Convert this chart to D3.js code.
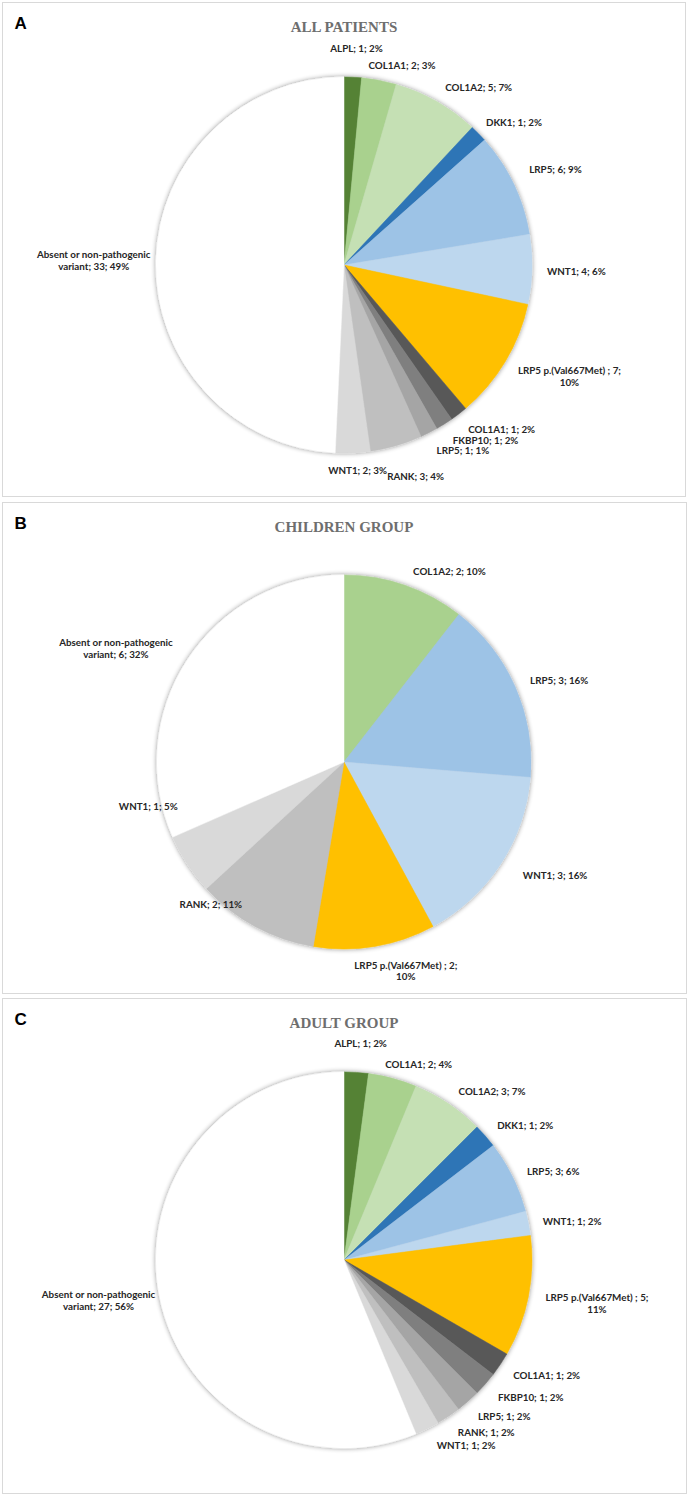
<!DOCTYPE html>
<html><head><meta charset="utf-8">
<script src="https://cdn.jsdelivr.net/npm/d3@7"></script>
<style>body{margin:0;background:#fff}</style>
</head><body>
<svg id="chart" width="689" height="1496"></svg>
<script>
// ---------- DATA ----------
// Panel A: all patients
const allCategories = ["ALPL","COL1A1","COL1A2","DKK1","LRP5","WNT1","LRP5 p.(Val667Met) ","COL1A1","FKBP10","LRP5","RANK","WNT1","Absent or non-pathogenic variant"];
const allValues     = [1,2,5,1,6,4,7,1,1,1,3,2,33];
const allPercents   = ["2%","3%","7%","2%","9%","6%","10%","2%","2%","1%","4%","3%","49%"];

// Panel B: children group
const childCategories = ["COL1A2","LRP5","WNT1","LRP5 p.(Val667Met) ","RANK","WNT1","Absent or non-pathogenic variant"];
const childValues     = [2,3,3,2,2,1,6];
const childPercents   = ["10%","16%","16%","10%","11%","5%","32%"];

// Panel C: adult group
const adultCategories = ["ALPL","COL1A1","COL1A2","DKK1","LRP5","WNT1","LRP5 p.(Val667Met) ","COL1A1","FKBP10","LRP5","RANK","WNT1","Absent or non-pathogenic variant"];
const adultValues     = [1,2,3,1,3,1,5,1,1,1,1,1,27];
const adultPercents   = ["2%","4%","7%","2%","6%","2%","11%","2%","2%","2%","2%","2%","56%"];

// ---------- STYLE / LAYOUT ----------
const fullColors  = ["#548235","#a9d18e","#c5e0b4","#2e75b6","#9dc3e6","#bdd7ee","#ffc000","#595959","#7f7f7f","#a5a5a5","#bfbfbf","#d9d9d9","#ffffff"];
const childColors = ["#a9d18e","#9dc3e6","#bdd7ee","#ffc000","#bfbfbf","#d9d9d9","#ffffff"];

// label nudges (px) relative to the outside-end anchor of each slice
const nudgeA = [[2,-14],[15,0],[21,-1],[9,-1],[10,-8],[6,2],[12,4],[17,4],[19,4],[18,4],[9,17],[3,3],[4,0]];
const nudgeB = [[30,0],[9,0],[20,3],[21,4],[-25,-35],[-7,-66],[-16,0]];
const nudgeC = [[2,-14],[15,0],[20,0],[12,-1],[9,1],[6,1],[9,3],[11,3],[14,4],[13,4],[17,4],[22,4],[4,0]];

const panels = [
  {letter:"A", title:"ALL PATIENTS",   box:[2.5,2.5,683,494],   cx:344, cy:265,  r:188,
   cats:allCategories, vals:allValues, pcts:allPercents, colors:fullColors, nudge:nudgeA},
  {letter:"B", title:"CHILDREN GROUP", box:[2.5,502.5,684,491], cx:344, cy:762,  r:187,
   cats:childCategories, vals:childValues, pcts:childPercents, colors:childColors, nudge:nudgeB},
  {letter:"C", title:"ADULT GROUP",    box:[2.5,998.5,684,495], cx:344, cy:1260, r:188,
   cats:adultCategories, vals:adultValues, pcts:adultPercents, colors:fullColors, nudge:nudgeC}
];

const svg = d3.select("#chart");
const defs = svg.append("defs");
const f = defs.append("filter").attr("id","shadow")
  .attr("x","-10%").attr("y","-10%").attr("width","120%").attr("height","120%");
f.append("feGaussianBlur").attr("in","SourceAlpha").attr("stdDeviation",2.6).attr("result","b");
f.append("feComponentTransfer").attr("in","b").attr("result","s")
  .append("feFuncA").attr("type","linear").attr("slope",0.45);
const fm = f.append("feMerge");
fm.append("feMergeNode").attr("in","s");
fm.append("feMergeNode").attr("in","SourceGraphic");

const labelFont = "Lato, 'Liberation Sans', sans-serif";
// calibrate font size so a reference label has the width seen in the original (~67px)
const probe = svg.append("text").attr("font-family",labelFont).attr("font-weight","bold")
  .attr("font-size",10).text("COL1A1; 1; 2%");
const probeW = probe.node().getBBox().width;
probe.remove();
const fontSize = Math.max(9.5, Math.min(12.5, 10*67/probeW));
const lineH = fontSize*1.2;

function wrap(text, maxChars){
  const words = text.split(" ");
  const lines = []; let cur = "";
  words.forEach(w => {
    const t = cur ? cur + " " + w : w;
    if (t.length > maxChars && cur) { lines.push(cur); cur = w; } else cur = t;
  });
  if (cur) lines.push(cur);
  return lines;
}

panels.forEach(p => {
  const g = svg.append("g");
  const [bx,by,bw,bh] = p.box;
  g.append("rect").attr("x",bx).attr("y",by).attr("width",bw).attr("height",bh)
    .attr("fill","#fff").attr("stroke","#d9d9d9").attr("stroke-width",1);

  g.append("text").attr("x",bx+12).attr("y",by+26)
    .attr("font-family","'Liberation Sans', Arial, sans-serif").attr("font-weight","bold")
    .attr("font-size",17).attr("fill","#000").text(p.letter);

  g.append("text").attr("x",p.cx).attr("y",by+29).attr("text-anchor","middle")
    .attr("font-family","'Liberation Serif', 'Times New Roman', serif").attr("font-weight","bold")
    .attr("font-size",15).attr("fill","#6e6e6e").text(p.title);

  const data = p.cats.map((c,i)=>({name:c, value:p.vals[i], pct:p.pcts[i], color:p.colors[i], i}));
  const pie = d3.pie().sort(null).value(d=>d.value);
  const arcs = pie(data);
  const arc = d3.arc().innerRadius(0).outerRadius(p.r);

  const pg = g.append("g").attr("transform",`translate(${p.cx},${p.cy})`).attr("filter","url(#shadow)");
  pg.selectAll("path").data(arcs).join("path")
    .attr("d",arc).attr("fill",d=>d.data.color)
    .attr("stroke",d=>d.data.color).attr("stroke-width",0.5);

  const R = p.r + 9;
  arcs.forEach((a,k) => {
    const th = (a.startAngle + a.endAngle)/2;
    const s = Math.sin(th), c = Math.cos(th);
    const px = p.cx + R*s, py = p.cy - R*c;
    const lines = wrap(`${a.data.name}; ${a.data.value}; ${a.data.pct}`, 25);
    const t = g.append("text").attr("text-anchor","middle")
      .attr("font-family",labelFont).attr("font-weight","bold")
      .attr("font-size",fontSize).attr("fill","#262626");
    lines.forEach((ln,j)=> t.append("tspan").attr("x",0).attr("dy", j===0?0:lineH).text(ln));
    const bb = t.node().getBBox();
    const w = bb.width, h = lines.length*lineH;
    const [nx,ny] = p.nudge[k];
    const lx = px + 0.5*w*s + nx;
    const ly = py - 0.5*h*c + ny;
    const baseline = ly - h/2 + lineH*0.5 + fontSize*0.36;
    t.attr("transform",`translate(${lx},${baseline})`);
  });
});
</script>
</body></html>
